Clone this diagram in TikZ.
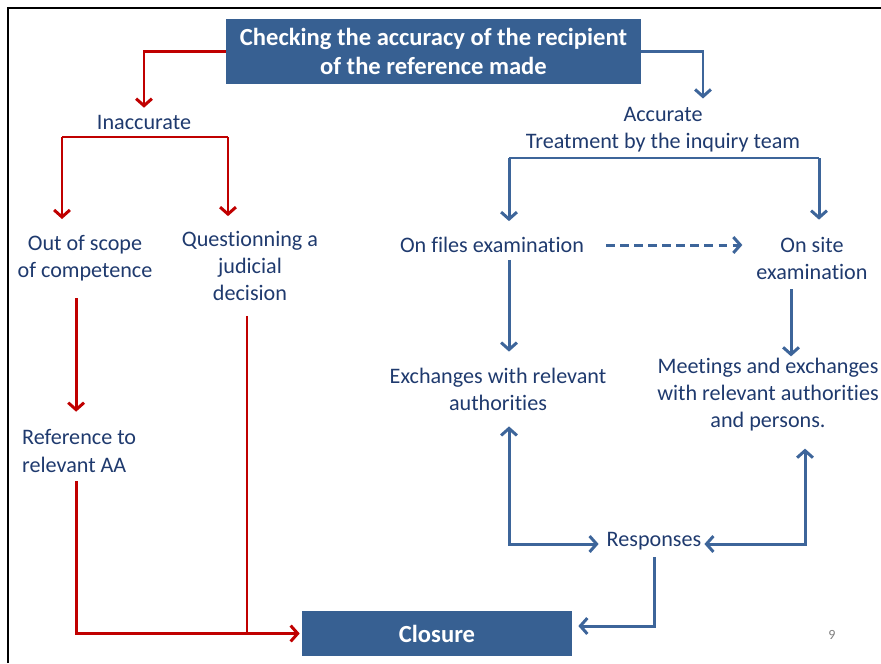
\documentclass[tikz,border=0pt]{standalone}
\usepackage{fontspec}
\setmainfont[Ligatures=NoCommon]{Carlito}
\usepackage{tikz}
\usetikzlibrary{positioning,arrows.meta}
\definecolor{boxblue}{HTML}{376092}
\definecolor{textnavy}{HTML}{1F3A6E}
\definecolor{linered}{HTML}{C00000}
\definecolor{lineblue}{HTML}{3D659A}

\begin{document}
\begin{tikzpicture}[x=0.02cm, y=-0.02cm,
			>={Straight Barb[length=4pt,width=9pt]},
			header/.style={rectangle, fill=boxblue, text=white, font=\fontsize{14}{16.5}\selectfont\bfseries, align=center, inner sep=0pt},
			stage/.style={text=textnavy, font=\fontsize{12.6}{15.4}\selectfont, align=center, inner sep=1pt},
			redline/.style={draw=linered, line width=1.7pt},
			blueline/.style={draw=lineblue, line width=1.7pt},
			]
			\useasboundingbox (0,0) rectangle (881,663);
			%Frame
				\draw[black, line width=1.2pt] (8,663) -- (8,8) -- (881,8);

			%Nodes
				\node[header, minimum width=8.3cm, minimum height=1.3cm]	(title)	at (433.5,51.5)	{Checking the accuracy of the recipient\\of the reference made};
				\node[header, minimum width=5.4cm, minimum height=0.9cm]	(closure)	at (437,633.5)	{Closure};
				\node[stage]	(inaccurate)	at (144,122)	{Inaccurate};
				\node[stage]	(accurate)		at (663,130)	{Accurate\\Treatment by the inquiry team};
				\node[stage]	(outscope)		at (85,258)		{Out of scope\\of competence};
				\node[stage]	(questioning)	at (250,266)	{Questionning a\\judicial\\decision};
				\node[stage, align=left, anchor=west]	(reference)	at (20,451)	{Reference to\\relevant AA};
				\node[stage]	(onfiles)		at (492,245)	{On files examination};
				\node[stage]	(onsite)		at (812,258)	{On site\\examination};
				\node[stage]	(exchanges)		at (498,389)	{Exchanges with relevant\\authorities};
				\node[stage]	(meetings)		at (768,395)	{Meetings and exchanges\\with relevant authorities\\and persons.};
				\node[stage]	(responses)		at (654,541)	{Responses};
				\node[text=gray, font=\fontsize{8}{10}\selectfont]	(pagenum)	at (832,635)	{9};
				\coordinate	(redsplitL)		at (62,137);
				\coordinate	(redsplitR)		at (228,137);
				\coordinate	(bluesplitL)	at (509,158);
				\coordinate	(bluesplitR)	at (819,158);

			%Red lines
				\draw[redline,->,shorten >=0.1cm] (title.west) -| (inaccurate.north);
				\draw[redline] (redsplitL) -- (redsplitR);
				\draw[redline,->,shorten >=0.28cm] (redsplitL) -- (redsplitL |- outscope.north);
				\draw[redline,->,shorten >=0.26cm] (redsplitR) -- (redsplitR |- questioning.north);
				\draw[redline,->,shorten <=0.3cm,shorten >=0.32cm] ([xshift=-0.06cm]reference.north |- outscope.south) -- ([xshift=-0.06cm]reference.north);
				\draw[redline,->,shorten <=0.14cm,shorten >=0.04cm] ([xshift=-0.06cm]reference.south) |- (closure.west);
				\draw[redline,shorten <=0.26cm] ([xshift=-0.06cm]questioning.south) -- ([xshift=-0.06cm]questioning.south |- closure.west);

			%Blue lines
				\draw[blueline,->,shorten >=0.14cm] (title.east) -| ([xshift=0.8cm]accurate.north);
				\draw[blueline] (bluesplitL) -- (bluesplitR);
				\draw[blueline,->,shorten >=0.28cm] (bluesplitL) -- (bluesplitL |- onfiles.north);
				\draw[blueline,->,shorten >=0.3cm] (bluesplitR) -- (bluesplitR |- onsite.north);
				\draw[blueline,->,dashed,dash pattern=on 5pt off 3pt,shorten <=0.4cm,shorten >=0.24cm] (onfiles.east) -- (onsite.west |- onfiles.east);
				\draw[blueline,->,shorten <=0.1cm,shorten >=0.28cm] (onfiles.south -| bluesplitL) -- (exchanges.north -| bluesplitL);
				\draw[blueline,->,shorten <=0.16cm] ([xshift=-0.42cm]onsite.south) -- ([xshift=-0.42cm]onsite.south |- meetings.north);
				\draw[blueline,<->,shorten <=0.28cm,shorten >=0.12cm] (exchanges.south -| bluesplitL) |- ([yshift=-0.06cm]responses.west);
				\draw[blueline,<->,shorten <=0.3cm,shorten >=0.02cm] ([xshift=0.74cm]meetings.south) |- ([yshift=-0.06cm]responses.east);
				\draw[blueline,->,shorten <=0.1cm,shorten >=0.12cm] (responses.south) |- ([yshift=0.15cm]closure.east);
		\end{tikzpicture}
\end{document}
